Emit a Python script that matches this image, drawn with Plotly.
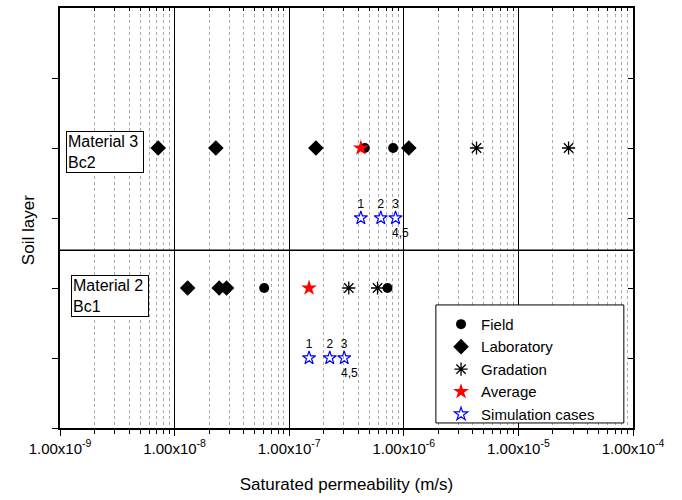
import math
import plotly.graph_objects as go

# Saturated permeability (m/s) per soil layer and source
mat3_field = [4.57e-7, 8.07e-7]
mat3_lab = [7.19e-9, 2.29e-8, 1.71e-7, 1.106e-6]
mat3_grad = [4.31e-6, 2.74e-5]
mat3_avg = [4.22e-7]
mat3_sim = [4.22e-7, 6.30e-7, 8.47e-7]

mat2_field = [6.05e-8, 7.21e-7]
mat2_lab = [1.30e-8, 2.45e-8, 2.84e-8]
mat2_grad = [3.31e-7, 5.90e-7]
mat2_avg = [1.49e-7]
mat2_sim = [1.49e-7, 2.26e-7, 3.02e-7]

sim_labels = ["1", "2", "3"]
sim_extra_label = "4,5"

# vertical positions of the rows
row_mat3, row_mat3_sim = 4, 3
row_mat2, row_mat2_sim = 2, 1
layer_boundary = 2.54

layer_names = ["Material 3<br>Bc2", "Material 2<br>Bc1"]
layer_label_y = [3.94, 1.89]

decades = [-9, -8, -7, -6, -5, -4]
tick_vals = [10.0 ** d for d in decades]
tick_text = ["1.00x10<sup>%d</sup>" % d for d in decades]
minor_vals = [m * 10.0 ** d for d in decades[:-1] for m in range(2, 10)]

FONT = "Liberation Sans, Arial, sans-serif"

fig = go.Figure()

styles = {
    "Field": dict(symbol="circle", size=10, color="black"),
    "Laboratory": dict(symbol="diamond", size=12, color="black"),
    "Gradation": dict(symbol="asterisk-open", size=11, color="black",
                      line=dict(color="black", width=1.3)),
    "Average": dict(symbol="star", size=12, color="red"),
}

series = [
    ("Field", mat3_field, mat2_field),
    ("Laboratory", mat3_lab, mat2_lab),
    ("Gradation", mat3_grad, mat2_grad),
    ("Average", mat3_avg, mat2_avg),
]
for name, a, b in series:
    fig.add_trace(go.Scatter(
        x=a + b, y=[row_mat3] * len(a) + [row_mat2] * len(b),
        mode="markers", name=name, marker=styles[name],
    ))

# simulation cases with their case numbers
sim_marker = dict(symbol="star-open", size=10, color="blue", line=dict(color="blue", width=1.2))
fig.add_trace(go.Scatter(
    x=mat3_sim + mat2_sim,
    y=[row_mat3_sim] * len(mat3_sim) + [row_mat2_sim] * len(mat2_sim),
    mode="markers+text", name="Simulation cases", marker=sim_marker,
    text=sim_labels + sim_labels, textposition="top center",
    textfont=dict(family=FONT, size=12, color="black"),
))
for xs, yrow in [(mat3_sim, row_mat3_sim), (mat2_sim, row_mat2_sim)]:
    fig.add_annotation(x=math.log10(xs[-1]), y=yrow,
                       xref="x", yref="y", text=sim_extra_label, showarrow=False,
                       xshift=5, yshift=-15,
                       font=dict(family=FONT, size=12, color="black"))

# empty trace so the mirrored top/right axes are drawn
fig.add_trace(go.Scatter(x=[], y=[], xaxis="x2", yaxis="y2", showlegend=False,
                         hoverinfo="skip"))

for name, yv, xp in zip(layer_names, layer_label_y, [0.0105, 0.0192]):
    fig.add_annotation(x=xp, y=yv, xref="paper", yref="y", text=name,
                       showarrow=False, xanchor="left", yanchor="middle", align="left",
                       bordercolor="black", borderwidth=1, borderpad=1, bgcolor="white",
                       width=74, font=dict(family=FONT, size=16, color="black"))

# boundary between the two layers
fig.add_shape(type="line", xref="paper", yref="y", x0=0, x1=1,
              y0=layer_boundary, y1=layer_boundary, line=dict(color="black", width=1.5))
# legend frame
fig.add_shape(type="rect", xref="paper", yref="paper", x0=0.656, x1=0.984,
              y0=0.012, y1=0.293, line=dict(color="black", width=1),
              fillcolor="white", layer="above")

fig.add_annotation(x=-0.075, y=0.47, xref="paper", yref="paper", text="Soil layer",
                   textangle=-90, showarrow=False,
                   font=dict(family=FONT, size=17, color="black"))

axis_common = dict(type="log", range=[-9, -4], zeroline=False)
fig.update_layout(
    width=682, height=500,
    margin=dict(l=60, r=49, t=8, b=72),
    plot_bgcolor="white", paper_bgcolor="white",
    font=dict(family=FONT, size=14, color="black"),
    xaxis=dict(
        **axis_common,
        tickvals=tick_vals, ticktext=tick_text,
        ticks="outside", ticklen=6, tickcolor="black", tickwidth=1,
        showline=True, linecolor="black", linewidth=1.5,
        showgrid=True, gridcolor="black", gridwidth=1,
        minor=dict(tickmode="array", tickvals=minor_vals,
                   ticks="outside", ticklen=4, tickcolor="black",
                   showgrid=True, gridcolor="#aaaaaa", griddash="dot", gridwidth=1),
        tickfont=dict(family=FONT, size=15, color="black"),
        title=dict(text="Saturated permeability (m/s)",
                   font=dict(family=FONT, size=17, color="black"), standoff=22),
    ),
    xaxis2=dict(
        **axis_common, overlaying="x", side="top",
        tickvals=tick_vals, showticklabels=False,
        ticks="inside", ticklen=5, tickcolor="black",
        minor=dict(tickmode="array", tickvals=minor_vals,
                   ticks="inside", ticklen=3, tickcolor="black", showgrid=False),
        showline=True, linecolor="black", linewidth=1.5, showgrid=False,
    ),
    yaxis=dict(
        range=[0, 6], tickvals=[0, 1, 2, 3, 4, 5], showticklabels=False,
        ticks="outside", ticklen=6, tickcolor="black",
        showline=True, linecolor="black", linewidth=1.5,
        showgrid=False, zeroline=False,
    ),
    yaxis2=dict(
        range=[0, 6], overlaying="y", side="right",
        tickvals=[0, 1, 2, 3, 4, 5], showticklabels=False,
        ticks="inside", ticklen=5, tickcolor="black",
        showline=True, linecolor="black", linewidth=1.5,
        showgrid=False, zeroline=False,
    ),
    legend=dict(x=0.665, y=0.286, xanchor="left", yanchor="top",
                bgcolor="rgba(0,0,0,0)", borderwidth=0,
                font=dict(family=FONT, size=15, color="black"),
                tracegroupgap=0),
    showlegend=True,
)

fig.write_html("out.html")
